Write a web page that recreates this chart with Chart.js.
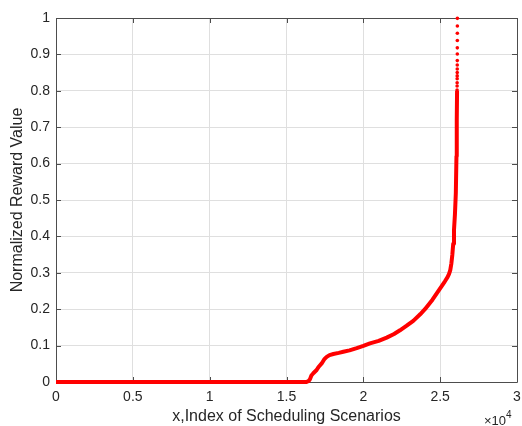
<!DOCTYPE html>
<html><head><meta charset="utf-8">
<script src="https://cdn.jsdelivr.net/npm/chart.js@4"></script>
<style>html,body{margin:0;padding:0;background:#fff}</style>
</head><body>
<canvas id="c" width="522" height="426" style="display:block;width:522px;height:426px"></canvas>
<script>
// Dense part of the sorted reward curve
const curveX = [0, 16300, 16450, 16530, 16620, 16745, 16960, 17100, 17290, 17450, 17615, 17800, 18050, 18400, 18700, 19100, 19570, 20000, 20430, 21000, 21520, 22000, 22385, 22800, 23250, 23700, 24010, 24500, 25000, 25300, 25480, 25580, 25660, 25730, 25790, 25850, 25900, 25960, 26020, 26060, 26080, 26100];
const curveY = [0, 0, 0.003, 0.008, 0.018, 0.024, 0.033, 0.042, 0.051, 0.062, 0.069, 0.074, 0.077, 0.080, 0.083, 0.087, 0.093, 0.099, 0.106, 0.113, 0.122, 0.132, 0.142, 0.154, 0.168, 0.186, 0.200, 0.226, 0.257, 0.276, 0.288, 0.297, 0.308, 0.326, 0.349, 0.380, 0.418, 0.460, 0.520, 0.620, 0.720, 0.800];
// Sparse top tail: individual dots
const tailX = [26100, 26102, 26104, 26106, 26108, 26110, 26112, 26113, 26114, 26115, 26116, 26117, 26118, 26119, 26120, 26101];
const tailY = [0.802, 0.813, 0.822, 0.833, 0.841, 0.850, 0.860, 0.871, 0.883, 0.901, 0.918, 0.938, 0.958, 0.978, 0.999, 0.790];
const xTicks = [0, 5000, 10000, 15000, 20000, 25000, 30000];
const yTicks = [0, 0.1, 0.2, 0.3, 0.4, 0.5, 0.6, 0.7, 0.8, 0.9, 1];
const xTitle = 'x,Index of Scheduling Scenarios';
const yTitle = 'Normalized Reward Value';
const xExponent = '4';

const FONT = "'Liberation Sans', Arial, Helvetica, sans-serif";
const TXT = '#262626';
const BOX = '#4d4d4d';

const curveData = curveX.map((x, i) => ({x, y: curveY[i]}));
const tailData = tailX.map((x, i) => ({x, y: tailY[i]}));

const boxPlugin = {
  id: 'matlabBox',
  beforeDatasetsDraw(chart) {
    const {ctx, chartArea: a, scales: {x, y}} = chart;
    ctx.save();
    ctx.strokeStyle = BOX;
    ctx.lineWidth = 1;
    ctx.beginPath();
    ctx.rect(Math.round(a.left) + 0.5, Math.round(a.top) + 0.5, Math.round(a.right - a.left), Math.round(a.bottom - a.top));
    ctx.stroke();
    const tl = 5;
    ctx.beginPath();
    xTicks.forEach(v => {
      const px = Math.round(x.getPixelForValue(v)) + 0.5;
      ctx.moveTo(px, a.bottom); ctx.lineTo(px, a.bottom - tl);
      ctx.moveTo(px, a.top); ctx.lineTo(px, a.top + tl);
    });
    yTicks.forEach(v => {
      const py = Math.round(y.getPixelForValue(v)) + 0.5;
      ctx.moveTo(a.left, py); ctx.lineTo(a.left + tl, py);
      ctx.moveTo(a.right, py); ctx.lineTo(a.right - tl, py);
    });
    ctx.stroke();
    ctx.restore();
  },
  afterDraw(chart) {
    const {ctx, chartArea: a} = chart;
    ctx.save();
    ctx.fillStyle = TXT;
    ctx.textBaseline = 'alphabetic';
    ctx.textAlign = 'left';
    ctx.font = '13px ' + FONT;
    const base = '\u00d710';
    const x0 = a.right - 33;
    ctx.fillText(base, x0, 425);
    const w = ctx.measureText(base).width;
    ctx.font = '10px ' + FONT;
    ctx.fillText(xExponent, x0 + w, 418);
    ctx.restore();
  }
};

new Chart(document.getElementById('c'), {
  type: 'scatter',
  data: {
    datasets: [
      {
        data: curveData,
        showLine: true,
        borderColor: '#ff0000',
        backgroundColor: '#ff0000',
        borderWidth: 4,
        pointRadius: 0,
        tension: 0,
        clip: false,
        borderJoinStyle: 'round'
      },
      {
        data: tailData,
        showLine: false,
        pointRadius: 1.8,
        pointBorderWidth: 0,
        backgroundColor: '#ff0000',
        borderColor: '#ff0000',
        clip: false
      }
    ]
  },
  options: {
    responsive: false,
    animation: false,
    devicePixelRatio: 1,
    layout: {padding: {left: 0, right: 5, top: 18, bottom: 0}},
    plugins: {legend: {display: false}, tooltip: {enabled: false}},
    scales: {
      x: {
        type: 'linear', min: 0, max: 30000,
        afterBuildTicks(s) { s.ticks = xTicks.map(v => ({value: v})); },
        afterFit(s) { s.height = 44; s.paddingRight = 0; s.paddingLeft = 0; },
        grid: {color: '#dfdfdf', lineWidth: 1, drawTicks: false},
        border: {display: false},
        ticks: {
          padding: 7, color: TXT, font: {family: FONT, size: 14}, maxRotation: 0,
          callback: v => String(v / 10000)
        },
        title: {display: true, text: xTitle, color: TXT, font: {family: FONT, size: 16}, padding: {top: 0, bottom: 0}}
      },
      y: {
        type: 'linear', min: 0, max: 1,
        afterBuildTicks(s) { s.ticks = yTicks.map(v => ({value: v})); },
        afterFit(s) { s.width = 56; },
        grid: {color: '#dfdfdf', lineWidth: 1, drawTicks: false},
        border: {display: false},
        ticks: {
          padding: 6, color: TXT, font: {family: FONT, size: 14},
          callback: v => String(Math.round(v * 10) / 10)
        },
        title: {display: true, text: yTitle, color: TXT, font: {family: FONT, size: 16}, padding: {top: 8, bottom: 0}}
      }
    }
  },
  plugins: [boxPlugin]
});
</script>
</body></html>
